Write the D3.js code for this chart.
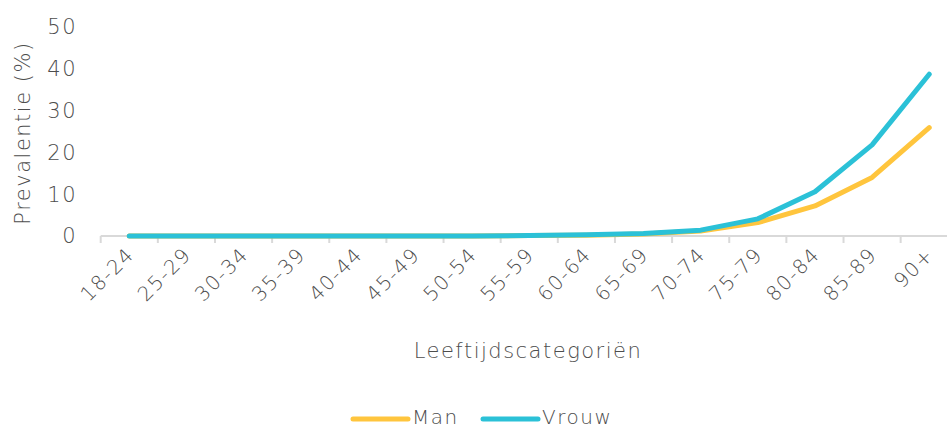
<!DOCTYPE html>
<html>
<head>
<meta charset="utf-8">
<script src="https://cdn.jsdelivr.net/npm/d3@7"></script>
<style>
  body { margin: 0; background: #fff; }
  text { font-family: "DejaVu Sans", sans-serif; font-weight: 200; fill: #4d4d4d; letter-spacing: 1.5px; }
</style>
</head>
<body>
<div id="chart"></div>
<script>
// data
const categories = ["18-24", "25-29", "30-34", "35-39", "40-44", "45-49", "50-54", "55-59",
  "60-64", "65-69", "70-74", "75-79", "80-84", "85-89", "90+"];
const man = [0, 0, 0, 0, 0, 0, 0, 0.1, 0.2, 0.5, 1.2, 3.2, 7.2, 14.0, 25.9];
const vrouw = [0, 0, 0, 0, 0, 0, 0, 0.1, 0.3, 0.6, 1.4, 4.1, 10.6, 21.8, 38.7];
const yTicks = [0, 10, 20, 30, 40, 50];

const W = 947, H = 430;
const svg = d3.select("#chart").append("svg")
  .attr("width", W).attr("height", H);

// scales (band runs a little past the right edge, as in the original)
const x = d3.scaleBand().domain(categories).range([100.7, 957.8]);
const y = d3.scaleLinear().domain([0, 50]).range([236, 27]);

// y axis labels
svg.append("g")
  .selectAll("text")
  .data(yTicks)
  .join("text")
  .attr("x", 77)
  .attr("y", d => y(d))
  .attr("dy", "0.35em")
  .attr("text-anchor", "end")
  .attr("font-size", 21)
  .text(d => d);

// x axis line + ticks between categories
const xAxis = svg.append("g");
xAxis.append("line")
  .attr("x1", x.range()[0]).attr("x2", W)
  .attr("y1", y(0)).attr("y2", y(0))
  .attr("stroke", "#d9d9d9").attr("stroke-width", 2);
xAxis.selectAll(".tick")
  .data(categories)
  .join("line")
  .attr("class", "tick")
  .attr("x1", d => x(d)).attr("x2", d => x(d))
  .attr("y1", y(0)).attr("y2", y(0) + 7)
  .attr("stroke", "#d9d9d9").attr("stroke-width", 2);

xAxis.selectAll(".lbl")
  .data(categories)
  .join("text")
  .attr("class", "lbl")
  .attr("text-anchor", "end")
  .attr("font-size", 20)
  .attr("transform", d => `translate(${x(d) + x.bandwidth() / 2 + 6},${y(0) + 20}) rotate(-45)`)
  .text(d => d);

// lines
const line = d3.line()
  .x((d, i) => x(categories[i]) + x.bandwidth() / 2)
  .y(d => y(d));

const series = [
  { name: "Man", values: man, color: "#ffc53d" },
  { name: "Vrouw", values: vrouw, color: "#2bc1d7" }
];

svg.selectAll(".series")
  .data(series)
  .join("path")
  .attr("class", "series")
  .attr("fill", "none")
  .attr("stroke", d => d.color)
  .attr("stroke-width", 5)
  .attr("stroke-linecap", "round")
  .attr("stroke-linejoin", "round")
  .attr("d", d => line(d.values));

// axis titles
svg.append("text")
  .attr("transform", "rotate(-90)")
  .attr("x", -133)
  .attr("y", 30)
  .attr("text-anchor", "middle")
  .attr("font-size", 21)
  .text("Prevalentie (%)");

svg.append("text")
  .attr("x", 528)
  .attr("y", 358)
  .attr("text-anchor", "middle")
  .attr("font-size", 21)
  .text("Leeftijdscategoriën");

// legend
const legendX = [353, 483];
const legend = svg.selectAll(".legend")
  .data(series)
  .join("g")
  .attr("class", "legend")
  .attr("transform", (d, i) => `translate(${legendX[i]},419)`);
legend.append("line")
  .attr("x1", 0).attr("x2", 55)
  .attr("stroke", d => d.color)
  .attr("stroke-width", 5)
  .attr("stroke-linecap", "round");
legend.append("text")
  .attr("x", 59)
  .attr("y", 5)
  .attr("font-size", 20)
  .text(d => d.name);
</script>
</body>
</html>
